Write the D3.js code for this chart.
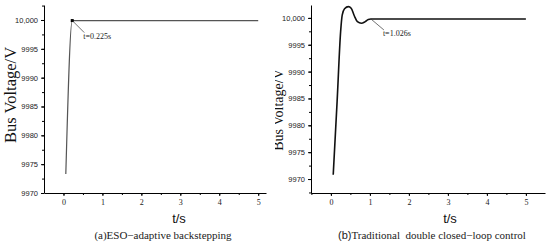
<!DOCTYPE html>
<html>
<head>
<meta charset="utf-8">
<script src="https://cdn.jsdelivr.net/npm/d3@7"></script>
<style>
  body { margin: 0; background: #fff; }
  .axis path, .axis line { stroke: #000; stroke-width: 1; }
  .axis text { fill: #222; }
</style>
</head>
<body>
<div id="chart"></div>
<script>
// ---------------------------------------------------------------- DATA
var xTicks = [0, 1, 2, 3, 4, 5];
var yTicks = [9970, 9975, 9980, 9985, 9990, 9995, 10000];

// (a) ESO-adaptive backstepping
var timeA = [0.06, 0.225, 5];
var voltA = [9973.3, 9999.9, 9999.9];
var markA = { t: 0.225, v: 9999.9, label: "t=0.225s" };

// (b) traditional double closed-loop
var timeB = [0.06, 0.16, 0.25, 0.29, 0.35, 0.45, 0.52, 0.6, 0.68, 0.78, 0.88, 0.96, 1.026, 5];
var voltB = [9970.8, 9984.5, 9997.5, 10000.5, 10001.7, 10002.1, 10001.8, 10000.4, 9999.3, 9999.0, 9999.3, 9999.7, 9999.8, 9999.8];
var markB = { t: 1.026, v: 9999.8, label: "t=1.026s" };

var captionA = "(a)ESO\u2212adaptive backstepping";
var captionB = "Traditional  double closed\u2212loop control";

// ---------------------------------------------------------------- SVG
var width = 550, height = 246;
var svg = d3.select("#chart").append("svg")
    .attr("width", width).attr("height", height);

var serif = "'Liberation Serif', 'DejaVu Serif', serif";
var sans = "'Liberation Sans', Arial, sans-serif";

svg.append("defs").append("clipPath").attr("id", "clipB")
    .append("rect").attr("x", 275).attr("y", 0).attr("width", 275).attr("height", height);

function yfmt(d) { return d === 10000 ? "10,000" : String(d); }

function panel(g, opt) {
    var x = d3.scaleLinear().domain(opt.xdom).range(opt.xr);
    var y = d3.scaleLinear().domain(opt.ydom).range([193, 5]);

    // minor ticks
    var xMinor = d3.range(-0.5, opt.xdom[1], 0.5).filter(function (d) { return d > opt.xdom[0]; });
    g.append("g").attr("class", "axis")
        .attr("transform", "translate(0,193)")
        .call(d3.axisBottom(x).tickValues(xMinor).tickSize(2).tickFormat(""))
        .select(".domain").remove();
    var yMinor = d3.range(9967.5, opt.ydom[1], 2.5).filter(function (d) { return d > opt.ydom[0]; });
    g.append("g").attr("class", "axis")
        .attr("transform", "translate(" + opt.xr[0] + ",0)")
        .call(d3.axisLeft(y).tickValues(yMinor).tickSize(2).tickFormat(""))
        .select(".domain").remove();

    var xa = g.append("g").attr("class", "axis")
        .attr("transform", "translate(0,193)")
        .call(d3.axisBottom(x).tickValues(xTicks).tickFormat(d3.format("d"))
            .tickSize(3).tickPadding(3).tickSizeOuter(0));
    xa.selectAll("text").attr("font-family", serif).attr("font-size", 8).attr("fill", "#444");

    var ya = g.append("g").attr("class", "axis")
        .attr("transform", "translate(" + opt.xr[0] + ",0)")
        .call(d3.axisLeft(y).tickValues(yTicks).tickFormat(yfmt).tickSize(3).tickPadding(3).tickSizeOuter(0));
    ya.selectAll("text").attr("font-family", sans).attr("font-size", 7.5).attr("fill", "#333");

    // curve
    var pts = opt.t.map(function (t, i) { return [t, opt.v[i]]; });
    var line = d3.line()
        .curve(d3.curveMonotoneX)
        .x(function (d) { return x(d[0]); })
        .y(function (d) { return y(d[1]); });
    g.append("path")
        .attr("d", line(pts))
        .attr("fill", "none")
        .attr("stroke", opt.color)
        .attr("stroke-width", opt.sw);

    // annotation
    var mx = x(opt.mark.t), my = y(opt.mark.v);
    if (opt.dot) {
        g.append("rect").attr("x", mx - 1.5).attr("y", my - 1.5)
            .attr("width", 3).attr("height", 3).attr("fill", "#000");
    }
    g.append("line")
        .attr("x1", mx).attr("y1", my)
        .attr("x2", mx + opt.lead[0]).attr("y2", my + opt.lead[1])
        .attr("stroke", "#333").attr("stroke-width", 0.7);
    g.append("text")
        .attr("x", mx + opt.lead[0] - 1).attr("y", my + opt.lead[1] + 6)
        .attr("font-family", serif).attr("font-size", 8).attr("fill", "#222")
        .text(opt.mark.label);

    // axis titles
    g.append("text")
        .attr("transform", "translate(" + opt.ylabX + "," + opt.ylabY + ") rotate(-90)")
        .attr("text-anchor", "middle")
        .attr("font-family", serif).attr("font-size", opt.ylabSize).attr("fill", "#111")
        .text("Bus Voltage/V");
    g.append("text")
        .attr("x", opt.tsX).attr("y", 223)
        .attr("text-anchor", "middle")
        .attr("font-family", sans).attr("font-size", 13).attr("fill", "#111")
        .text("t/s");
    return g;
}

var gA = svg.append("g");
panel(gA, {
    xdom: [-0.5, 5.2], xr: [44, 266],
    ydom: [9970, 10002.6],
    t: timeA, v: voltA, mark: markA,
    color: "#555", sw: 1.2, dot: true, lead: [12, 12],
    ylabX: 16, ylabY: 95, ylabSize: 16.5, tsX: 179
});
gA.append("text")
    .attr("x", 163).attr("y", 239)
    .attr("text-anchor", "middle")
    .attr("font-family", serif).attr("font-size", 11).attr("fill", "#222")
    .text(captionA);

var gB = svg.append("g").attr("clip-path", "url(#clipB)");
panel(gB, {
    xdom: [-0.51, 5.49], xr: [311, 545],
    ydom: [9967.4, 10002.4],
    t: timeB, v: voltB, mark: markB,
    color: "#111", sw: 1.6, dot: false, lead: [13, 11],
    ylabX: 283, ylabY: 110, ylabSize: 14, tsX: 450
});
var cap = gB.append("text")
    .attr("x", 338).attr("y", 239)
    .attr("font-size", 11).attr("fill", "#222");
cap.append("tspan").attr("font-family", sans).text("(b)");
cap.append("tspan").attr("font-family", serif).attr("xml:space", "preserve").text(captionB);
</script>
</body>
</html>
